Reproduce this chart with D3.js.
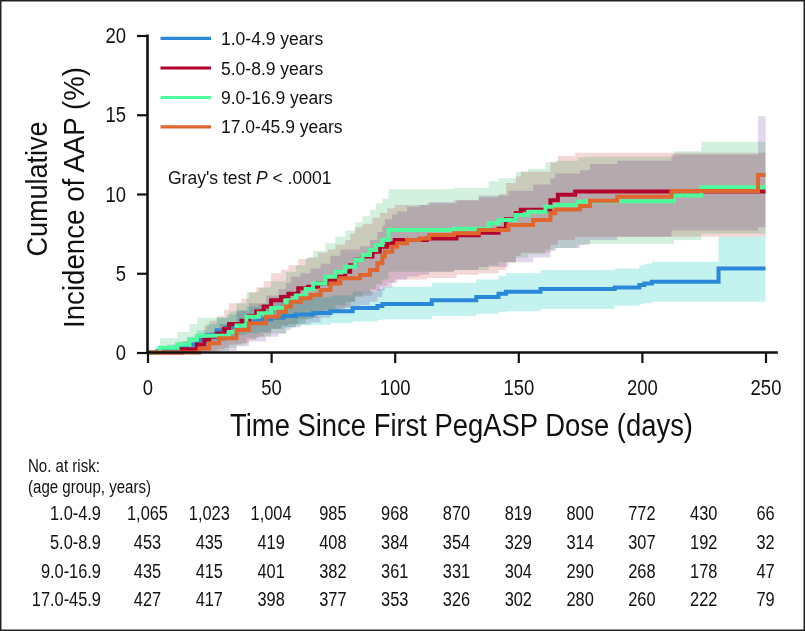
<!DOCTYPE html>
<html><head><meta charset="utf-8">
<script src="https://cdn.jsdelivr.net/npm/d3@7/dist/d3.min.js"></script>
<style>body{margin:0;background:#fff}svg{display:block}.band{mix-blend-mode:multiply}</style>
</head><body>
<svg id="chart" width="805" height="631"></svg>
<script>
// ---------- data ----------
const groupNames = ["1.0-4.9 years", "5.0-8.9 years", "9.0-16.9 years", "17.0-45.9 years"];
const riskLabels = ["1.0-4.9", "5.0-8.9", "9.0-16.9", "17.0-45.9"];
const lineColors = ["#2a88d8", "#b3002d", "#4dfc9c", "#e0662e"];
const bandColors = ["#c4f2ef", "#f4d8d8", "#d4f0de", "#e2d6ec"];

const blueT   = [0,4,8,12,16,20,24,28,32,36,40,45,50,55,60,67,74,83,93,95,115,133,142,145,159,189,199,201,204,231];
const blueEst = [0,.1,.2,.3,.5,.8,1.1,1.4,1.6,1.8,1.95,2.1,2.2,2.3,2.4,2.5,2.6,2.8,2.93,3.06,3.3,3.5,3.7,3.84,4.0,4.1,4.26,4.36,4.47,5.3];
const blueHi  = [0,.3,.5,.7,1.0,1.4,1.8,2.2,2.4,2.7,2.9,3.0,3.2,3.3,3.4,3.5,3.6,3.85,4.0,4.15,4.4,4.6,4.85,5.0,5.2,5.3,5.5,5.6,5.73,7.3];
const blueLo  = [0,0,0,0,.1,.3,.5,.7,.9,1.1,1.2,1.3,1.5,1.6,1.7,1.75,1.85,1.95,2.05,2.1,2.3,2.45,2.55,2.6,2.75,2.95,3.05,3.1,3.2,3.2];

const redT   = [0,14,20,23,25,28,31,33,38,41,44,47,50,54,57,61,65,69,73,76,80,82,84,87,91,94,97,100,113,125,134,142,145,149,151,163,166,173];
const redEst = [0,.2,.5,.8,1.0,1.2,1.5,1.8,2.0,2.3,2.6,2.9,3.3,3.5,3.7,4.05,4.15,4.36,4.57,4.78,5.1,5.5,5.85,6.05,6.36,6.67,6.9,7.1,7.2,7.4,7.55,7.8,8.4,8.8,9.0,9.6,9.95,10.15];
const redHi  = [0,.7,1.2,1.7,2.0,2.3,2.7,3.1,3.4,3.8,4.1,4.5,5.0,5.2,5.5,5.9,6.0,6.3,6.5,6.8,7.1,7.5,7.9,8.1,8.5,8.8,9.1,9.3,9.4,9.6,9.8,10.0,10.7,11.1,11.4,12.0,12.4,12.6];
const redLo  = [0,0,0,0,.1,.2,.3,.5,.6,.8,1.0,1.2,1.5,1.7,1.8,2.1,2.2,2.4,2.5,2.7,2.9,3.2,3.5,3.6,3.9,4.2,4.4,4.6,4.7,4.9,5.0,5.2,5.7,6.1,6.3,6.8,7.1,7.3];

const greenT   = [0,5,12,17,20,33,36,40,45,50,56,60,64,67,72,76,80,84,87,90,92.5,95,97.5,124,138,142,149,154,161,165,174,177,213,224];
const greenEst = [0,.3,.5,.8,1.05,1.3,1.7,2.26,2.47,2.8,3.3,3.6,4.0,4.36,4.78,5.1,5.41,5.84,6.15,6.47,6.78,7.1,7.73,7.8,8.15,8.36,8.68,8.88,9.2,9.31,9.51,9.55,9.9,10.42];
const greenHi  = [0,.9,1.3,1.8,2.2,2.6,3.1,3.8,4.1,4.5,5.1,5.5,6.0,6.4,6.9,7.3,7.7,8.2,8.6,9.0,9.4,9.7,10.3,10.4,10.8,11.0,11.4,11.6,12.0,12.1,12.3,12.35,12.7,13.3];
const greenLo  = [0,0,0,0,.1,.3,.5,.9,1.0,1.2,1.6,1.8,2.1,2.4,2.7,3.0,3.2,3.6,3.8,4.0,4.3,4.6,5.1,5.2,5.5,5.7,6.0,6.2,6.5,6.6,6.8,6.85,7.1,7.5];

const orangeT   = [0,21,25,29,36,41,48,53,56,58,62,66,70,74,78,86,90,93,95,96,99,101,105,110,114,124,134,146,156,163,165,175,179,190,212,247];
const orangeEst = [0,.26,.58,.9,1.42,1.84,2.26,2.57,2.9,3.2,3.42,3.63,3.94,4.36,4.68,4.89,5.2,5.63,6.05,6.36,6.67,6.89,7.1,7.2,7.41,7.52,7.73,8.04,8.36,8.78,9.03,9.24,9.58,9.83,10.19,11.2];
const orangeHi  = [0,.8,1.3,1.8,2.6,3.1,3.6,4.0,4.4,4.8,5.0,5.3,5.6,6.1,6.5,6.7,7.1,7.6,8.0,8.4,8.7,8.9,9.2,9.3,9.5,9.6,9.9,10.2,10.6,11.0,11.3,11.5,11.9,12.1,12.5,14.9];
const orangeLo  = [0,0,0,.1,.4,.7,1.0,1.2,1.4,1.6,1.8,1.9,2.2,2.5,2.8,3.0,3.2,3.5,3.9,4.1,4.4,4.6,4.8,4.9,5.1,5.2,5.4,5.7,6.0,6.4,6.6,6.8,7.1,7.3,7.7,7.9];

const endTime = 250;
const xTicks = [0, 50, 100, 150, 200, 250];
const yTicks = [0, 5, 10, 15, 20];
const riskTimes = [0, 25, 50, 75, 100, 125, 150, 175, 200, 225, 250];
const risk1 = [1065, 1023, 1004, 985, 968, 870, 819, 800, 772, 430, 66];
const risk2 = [453, 435, 419, 408, 384, 354, 329, 314, 307, 192, 32];
const risk3 = [435, 415, 401, 382, 361, 331, 304, 290, 268, 178, 47];
const risk4 = [427, 417, 398, 377, 353, 326, 302, 280, 260, 222, 79];

// ---------- build ----------
const seriesT = [blueT, redT, greenT, orangeT];
const seriesEst = [blueEst, redEst, greenEst, orangeEst];
const seriesLo = [blueLo, redLo, greenLo, orangeLo];
const seriesHi = [blueHi, redHi, greenHi, orangeHi];
const riskRows = [risk1, risk2, risk3, risk4];

function rows(i) {
  const T = seriesT[i], E = seriesEst[i], L = seriesLo[i], H = seriesHi[i];
  const r = T.map((t, k) => ({t, e: E[k], lo: L[k], hi: H[k]}));
  const last = r[r.length - 1];
  r.push({t: endTime, e: last.e, lo: last.lo, hi: last.hi});
  return r;
}

const sans = "'Liberation Sans',Arial,Helvetica,sans-serif";
function condense(sel, f) {
  sel.each(function () {
    const w = this.getComputedTextLength();
    d3.select(this).attr("textLength", w * f).attr("lengthAdjust", "spacingAndGlyphs");
  });
}

const svg = d3.select("#chart");
svg.append("rect").attr("x", 0.75).attr("y", 0.75).attr("width", 803.5).attr("height", 629.5)
  .attr("fill", "#fff").attr("stroke", "#222").attr("stroke-width", 1.5);

const x = d3.scaleLinear().domain([0, 250]).range([147.5, 765.5]);
const y = d3.scaleLinear().domain([0, 20]).range([352.5, 35.5]);

const area = d3.area().curve(d3.curveStepAfter)
  .x(d => x(d.t)).y0(d => y(d.lo)).y1(d => y(d.hi));
const line = d3.line().curve(d3.curveStepAfter)
  .x(d => x(d.t)).y(d => y(d.e));

const gBands = svg.append("g");
[0, 1, 2, 3].forEach(i => {
  gBands.append("path").datum(rows(i)).attr("class", "band").attr("d", area)
    .attr("fill", bandColors[i]).attr("stroke", "none");
});
const gLines = svg.append("g");
[0, 1, 2, 3].forEach(i => {
  gLines.append("path").datum(rows(i)).attr("d", line)
    .attr("fill", "none").attr("stroke", lineColors[i]).attr("stroke-width", 4);
});

// axes
const xAxis = svg.append("g").attr("transform", `translate(0,${y(0)})`)
  .call(d3.axisBottom(x).tickValues(xTicks).tickSize(10.5).tickPadding(16).tickSizeOuter(0));
xAxis.select(".domain").remove();
xAxis.selectAll("line").attr("stroke", "#111").attr("stroke-width", 2.2);
xAxis.selectAll("text").attr("font-family", sans).attr("font-size", 22).attr("fill", "#111").call(condense, 0.84);
svg.append("line").attr("x1", x(0) - 1).attr("x2", x(255)).attr("y1", y(0)).attr("y2", y(0))
  .attr("stroke", "#111").attr("stroke-width", 2.6);

const yAxis = svg.append("g").attr("transform", `translate(${x(0)},0)`)
  .call(d3.axisLeft(y).tickValues(yTicks).tickSize(10.5).tickPadding(11).tickSizeOuter(0));
yAxis.select(".domain").remove();
yAxis.selectAll("line").attr("stroke", "#111").attr("stroke-width", 2.2);
yAxis.selectAll("text").attr("font-family", sans).attr("font-size", 22).attr("fill", "#111").call(condense, 0.84);
svg.append("line").attr("x1", x(0)).attr("x2", x(0)).attr("y1", y(20) - 1).attr("y2", y(0) + 1.3)
  .attr("stroke", "#111").attr("stroke-width", 2.6);

// axis titles
svg.append("text").attr("x", 461.5).attr("y", 436).attr("text-anchor", "middle")
  .attr("font-family", sans).attr("font-size", 31).attr("fill", "#111")
  .attr("textLength", 463).attr("lengthAdjust", "spacingAndGlyphs")
  .text("Time Since First PegASP Dose (days)");
svg.append("text").attr("transform", "translate(46.5,189) rotate(-90)").attr("text-anchor", "middle")
  .attr("font-family", sans).attr("font-size", 29).attr("fill", "#111")
  .attr("textLength", 135).attr("lengthAdjust", "spacingAndGlyphs")
  .text("Cumulative");
svg.append("text").attr("transform", "translate(83.5,197.5) rotate(-90)").attr("text-anchor", "middle")
  .attr("font-family", sans).attr("font-size", 29).attr("fill", "#111")
  .attr("textLength", 261).attr("lengthAdjust", "spacingAndGlyphs")
  .text("Incidence of AAP (%)");

// legend
const legendY = [38.3, 68, 97.5, 126.8];
groupNames.forEach((name, i) => {
  svg.append("line").attr("x1", 160.5).attr("x2", 211).attr("y1", legendY[i]).attr("y2", legendY[i])
    .attr("stroke", lineColors[i]).attr("stroke-width", 3.2);
  svg.append("text").attr("x", 221).attr("y", legendY[i] + 6.5)
    .attr("font-family", sans).attr("font-size", 17.5).attr("fill", "#111").text(name);
});

// Gray's test
const gt = svg.append("text").attr("x", 168).attr("y", 183.5)
  .attr("font-family", sans).attr("font-size", 17.5).attr("fill", "#111");
gt.append("tspan").text("Gray's test ");
gt.append("tspan").attr("font-style", "italic").text("P");
gt.append("tspan").text(" < .0001");

// risk table
const hdr1 = svg.append("text").attr("x", 28).attr("y", 471.5).attr("font-family", sans)
  .attr("font-size", 17.5).attr("fill", "#111").text("No. at risk:");
const hdr2 = svg.append("text").attr("x", 28).attr("y", 492.5).attr("font-family", sans)
  .attr("font-size", 17.5).attr("fill", "#111").text("(age group, years)");
condense(hdr1, 0.86); condense(hdr2, 0.86);
const rowY = [520, 548.5, 577.5, 606];
const fmt = d3.format(",");
riskRows.forEach((r, i) => {
  svg.append("text").attr("x", 101).attr("y", rowY[i]).attr("text-anchor", "end")
    .attr("font-family", sans).attr("font-size", 19.5).attr("fill", "#111").text(riskLabels[i])
    .call(condense, 0.84);
  r.forEach((v, k) => {
    svg.append("text").attr("x", x(riskTimes[k])).attr("y", rowY[i]).attr("text-anchor", "middle")
      .attr("font-family", sans).attr("font-size", 19.5).attr("fill", "#111").text(fmt(v))
      .call(condense, 0.84);
  });
});
</script>
</body></html>
